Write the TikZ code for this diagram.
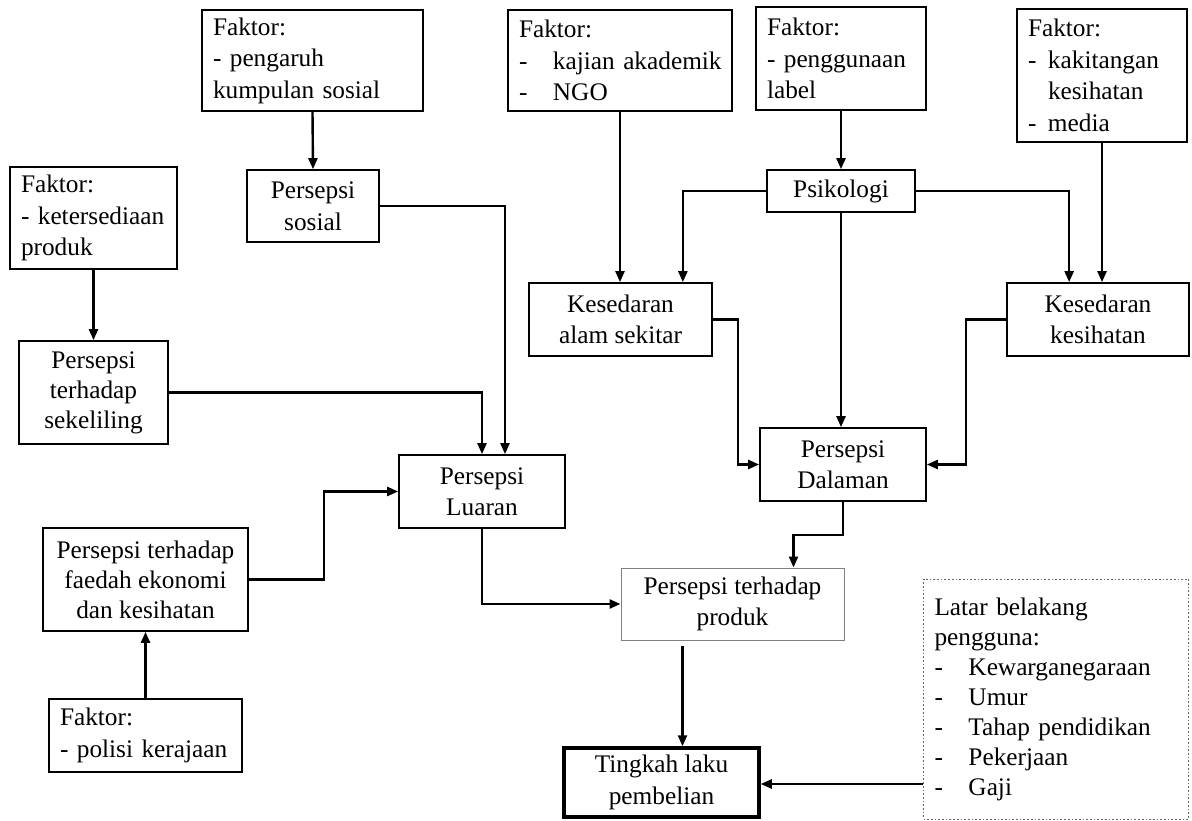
\documentclass[tikz,border=0pt]{standalone}
\usepackage{fontspec}
\setmainfont{Liberation Serif}
\usetikzlibrary{arrows.meta,calc}
\newcommand{\dd}{\makebox[34pt][l]{-}}
\newcommand{\ds}{\makebox[20pt][l]{-}}
\begin{document}
\begin{tikzpicture}[x=1pt,y=-1pt,
  every node/.style={font=\fontsize{25.3}{31.5}\selectfont},
  bx/.style={draw, line width=1.7pt, inner sep=0pt, align=center},
  lbx/.style={draw, line width=1.7pt, inner xsep=11pt, inner ysep=0pt, align=left},
  arr/.style={line width=2.4pt, -{Triangle[length=11pt,width=9pt]}}]
\fill[white] (0,0) rectangle (1192,821);
\useasboundingbox (0,0) rectangle (1192,821);
% nodes
\node[lbx, minimum width=221pt, minimum height=101pt, text width=199pt] (A) at (312.5,60.5) {Faktor:\\- pengaruh\\\mbox{kumpulan sosial}};
\node[bx, minimum width=132pt, minimum height=72pt] (B) at (313,206) {Persepsi\\sosial};
\node[lbx, minimum width=167pt, minimum height=102pt, text width=145pt] (C) at (93.5,218) {Faktor:\\\mbox{- ketersediaan}\\produk};
\node[bx, minimum width=149pt, minimum height=103pt, font=\fontsize{25.3}{30}\selectfont] (D) at (93.5,392.5) {Persepsi\\terhadap\\sekeliling};
\node[bx, minimum width=205pt, minimum height=103pt, font=\fontsize{25.3}{30}\selectfont] (E) at (145.5,579.5) {Persepsi terhadap\\faedah ekonomi\\dan kesihatan};
\node[lbx, minimum width=193pt, minimum height=73pt, text width=171pt] (F) at (145.5,735.5) {Faktor:\\\mbox{- polisi kerajaan}};
\node[bx, minimum width=166pt, minimum height=73pt] (G) at (482,491.5) {Persepsi\\Luaran};
\node[bx, draw=gray, line width=1pt, minimum width=223pt, minimum height=72pt] (H) at (732.5,604) {Persepsi terhadap\\produk};
\node[bx, line width=3.5pt, minimum width=195pt, minimum height=69pt] (I) at (661.5,782.5) {Tingkah laku\\pembelian};
\node[lbx, draw=gray!80!black, dotted, line width=1pt, minimum width=265pt, minimum height=240pt, text width=243pt, font=\fontsize{25.3}{30}\selectfont] (J) at (1056,699) {Latar belakang\\pengguna:\\\dd\mbox{Kewarganegaraan}\\\dd Umur\\\dd\mbox{Tahap pendidikan}\\\dd Pekerjaan\\\dd Gaji};
\node[lbx, minimum width=224pt, minimum height=101pt, text width=202pt] (K) at (620,60.5) {Faktor:\\\dd\mbox{kajian akademik}\\\dd NGO};
\node[lbx, minimum width=170pt, minimum height=103pt, text width=148pt] (L) at (841,58.5) {Faktor:\\\mbox{- penggunaan}\\label};
\node[bx, minimum width=148pt, minimum height=42pt] (M) at (841,191) {Psikologi};
\node[lbx, minimum width=170pt, minimum height=133pt, text width=148pt] (N) at (1102,75.5) {Faktor:\\\ds\mbox{kakitangan}\\\hspace*{20pt}kesihatan\\\ds media};
\node[bx, minimum width=182pt, minimum height=73pt] (O) at (1098,319.5) {Kesedaran\\kesihatan};
\node[bx, minimum width=183pt, minimum height=73pt] (P) at (620.5,319.5) {Kesedaran\\alam sekitar};
\node[bx, minimum width=166pt, minimum height=73pt] (Q) at (843,464.5) {Persepsi\\Dalaman};
% connectors
\draw[arr] (A.south) -- (B.north);
\draw[arr] (C.south) -- (D.north);
\draw[arr] (F.north) -- (E.south);
\draw[arr] (L.south) -- (M.north);
\draw[arr] (M.south) -- (M.south |- Q.north);
\draw[arr] (K.south) -- (K.south |- P.north);
\draw[arr] (N.south) -- (N.south |- O.north);
\draw[arr] (M.west) -| ([xshift=-30pt]P.north east);
\draw[arr] (M.east) -| ([xshift=63pt]O.north west);
\draw[arr] (P.east) -- ++(25pt,0) |- (Q.west);
\draw[arr] (O.west) -- ++(-40pt,0) |- (Q.east);
\draw[arr] (Q.south) -- ++(0,-33pt) -| ([xshift=-51pt]H.north east);
\draw[arr] (D.east) -| (G.north);
\draw[arr] (B.east) -| ([xshift=23pt]G.north);
\draw[arr] (E.east) -- ++(75pt,0) |- (G.west);
\draw[arr] (G.south) |- (H.west);
\coordinate (h1) at ([xshift=-50pt,yshift=-5pt]H.south);
\draw[arr] (h1) -- (h1 |- I.north);
\coordinate (j1) at ([yshift=-85pt]J.west);
\draw[arr] (j1) -- (j1 -| I.east);
\end{tikzpicture}
\end{document}
